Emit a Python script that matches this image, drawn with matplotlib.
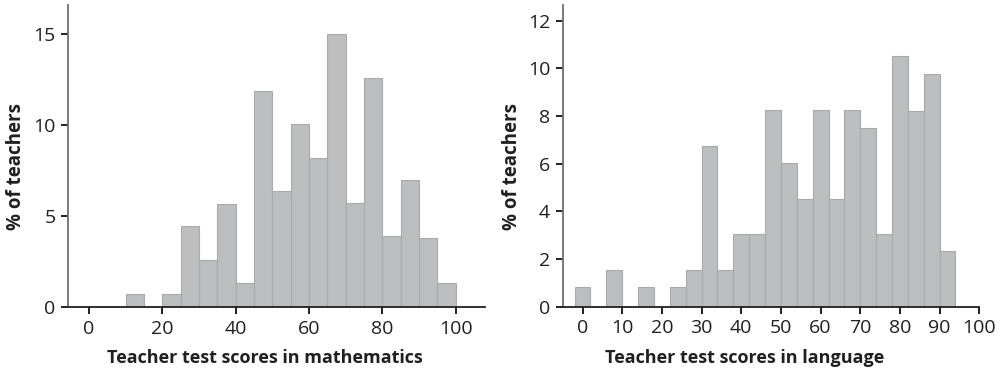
import matplotlib
matplotlib.use('Agg')
import matplotlib.pyplot as plt
import numpy as np

plt.rcParams['font.family'] = ['Open Sans', 'DejaVu Sans']

# Математика: левые границы корзин (шаг 5) и доля учителей, %
math_edges = [0, 5, 10, 15, 20, 25, 30, 35, 40, 45, 50, 55, 60, 65, 70, 75, 80, 85, 90, 95]
math_pct = [0, 0, 0.73, 0, 0.73, 4.47, 2.56, 5.68, 1.34, 11.9, 6.36, 10.04,
            8.19, 15.02, 5.70, 12.57, 3.88, 6.96, 3.81, 1.34]

# Язык: левые границы корзин (шаг 4)
lang_edges = [-2, 2, 6, 10, 14, 18, 22, 26, 30, 34, 38, 42, 46, 50, 54, 58,
              62, 66, 70, 74, 78, 82, 86, 90]
lang_pct = [0.81, 0, 1.54, 0, 0.81, 0, 0.81, 1.54, 6.76, 1.54, 3.04, 3.04,
            8.27, 6.02, 4.51, 8.27, 4.51, 8.27, 7.51, 3.04, 10.51, 8.21, 9.77, 2.32]

math_xticks = [0, 20, 40, 60, 80, 100]
math_yticks = [0, 5, 10, 15]
lang_xticks = [0, 10, 20, 30, 40, 50, 60, 70, 80, 90, 100]
lang_yticks = [0, 2, 4, 6, 8, 10, 12]

BAR = '#bdbec0'
EDGE = '#a9aaac'
TXT = '#231f20'


def style_axes(ax):
    for s in ['top', 'right']:
        ax.spines[s].set_visible(False)
    ax.spines['left'].set_color('#6d6e71')
    ax.spines['left'].set_linewidth(1.3)
    ax.spines['bottom'].set_color(TXT)
    ax.spines['bottom'].set_linewidth(1.3)
    ax.tick_params(direction='out', length=5, width=1.4, color=TXT,
                   labelsize=14, labelcolor=TXT, pad=4)


def draw_hist(ax, edges, pct, width):
    ax.bar(edges, pct, width=width, align='edge', color=BAR,
           edgecolor=EDGE, linewidth=0.8)


fig = plt.figure(figsize=(10.01, 3.71), dpi=100)
ax1 = fig.add_axes([68 / 1001, 64 / 371, 417 / 1001, 302 / 371])
ax2 = fig.add_axes([562.7 / 1001, 64.3 / 371, 416.6 / 1001, 302 / 371])

draw_hist(ax1, math_edges, math_pct, 5)
style_axes(ax1)
ax1.set_xlim(-5.7, 108)
ax1.set_ylim(0, 16.6)
ax1.set_xticks(math_xticks)
ax1.set_yticks(math_yticks)
ax1.set_xlabel('Teacher test scores in mathematics', fontsize=13,
               fontweight='bold', color=TXT, va='center')
ax1.xaxis.set_label_coords(0.472, -0.17)
ax1.set_ylabel('% of teachers', fontsize=13.5, fontweight='bold',
               color=TXT, va='center')
ax1.yaxis.set_label_coords(-0.125, 0.464)

draw_hist(ax2, lang_edges, lang_pct, 4)
style_axes(ax2)
ax2.set_xlim(-5, 100)
ax2.set_ylim(0, 12.67)
ax2.set_xticks(lang_xticks)
ax2.set_yticks(lang_yticks)
ax2.set_xlabel('Teacher test scores in language', fontsize=13,
               fontweight='bold', color=TXT, va='center')
ax2.xaxis.set_label_coords(0.4376, -0.17)
ax2.set_ylabel('% of teachers', fontsize=13.5, fontweight='bold',
               color=TXT, va='center')
ax2.yaxis.set_label_coords(-0.122, 0.464)

fig.savefig('out.png', dpi=100)
